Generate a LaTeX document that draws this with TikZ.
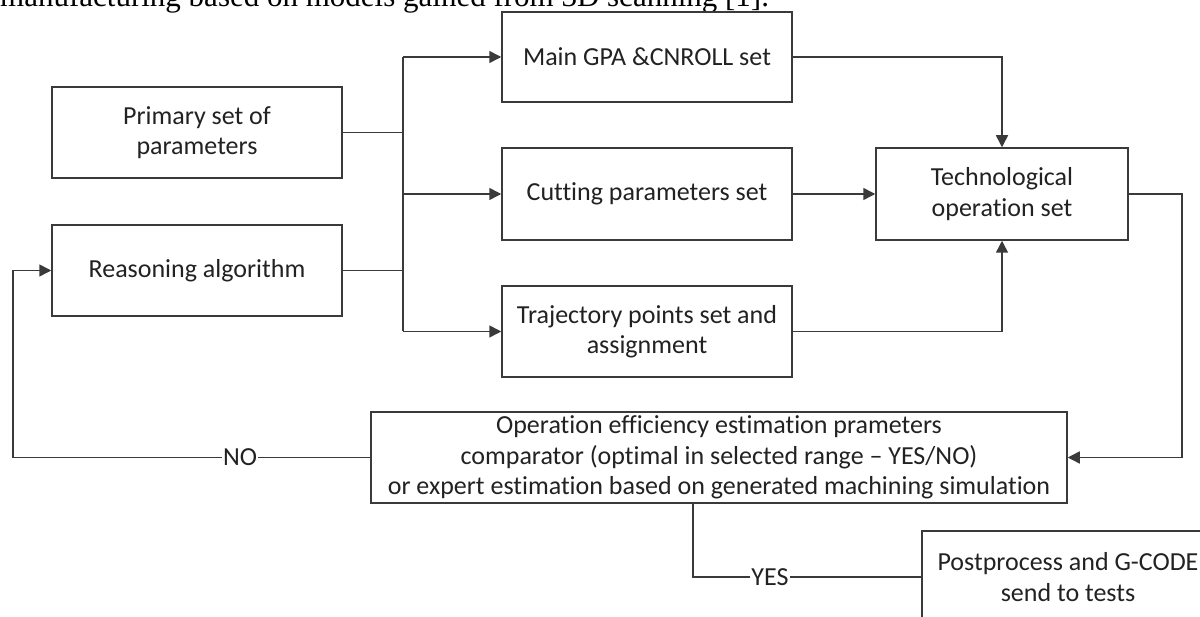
\documentclass[tikz,border=0pt]{standalone}
\usepackage{fontspec}
\setmainfont{Carlito}[Ligatures=NoCommon]
\newfontfamily\capserif{Liberation Serif}
\usetikzlibrary{arrows.meta}
\definecolor{boxcol}{HTML}{3A3A3A}
\definecolor{linecol}{HTML}{3A3A3A}
\definecolor{txtcol}{HTML}{222222}
\begin{document}
\begin{tikzpicture}[x=1pt,y=-1pt,
  box/.style={draw=boxcol, line width=1.5pt, inner sep=0pt, align=center,
    font=\fontsize{26}{30.5}\selectfont, text=txtcol},
  conn/.style={draw=linecol, line width=1.5pt},
  arr/.style={conn, -{Triangle[length=12pt,width=12pt]}},
  lbl/.style={fill=white, inner sep=1pt, font=\fontsize{26}{30}\selectfont, text=txtcol}]
\useasboundingbox (0,0) rectangle (1200,617);
\clip (0,0) rectangle (1200,617);
\fill[white] (0,0) rectangle (1200,617);
\node[anchor=base west, inner sep=0pt, font=\capserif\fontsize{31}{36}\selectfont] (cap) at (0,7)
  {manufacturing based on models gained from 3D scanning [1].};

\node[box, minimum width=290pt, minimum height=91pt] (prim) at (197,132.5) {Primary set of\\parameters};
\node[box, minimum width=290pt, minimum height=91pt] (reas) at (197,270.5) {Reasoning algorithm};
\node[box, minimum width=290pt, minimum height=90pt] (main) at (647,57) {Main GPA \&CNROLL set};
\node[box, minimum width=290pt, minimum height=92pt] (cut) at (647,194) {Cutting parameters set};
\node[box, minimum width=290pt, minimum height=91pt] (traj) at (647,331.5) {Trajectory points set and\\assignment};
\node[box, minimum width=252pt, minimum height=92pt] (tech) at (1002,194) {Technological\\operation set};
\node[box, minimum width=696pt, minimum height=91pt] (comp) at (719,457.5)
  {Operation efficiency estimation prameters\\comparator (optimal in selected range -- YES/NO)\\or expert estimation based on generated machining simulation};
\node[box, minimum width=292pt, minimum height=92pt] (post) at (1068,577) {Postprocess and G-CODE\\send to tests};

\coordinate (bus) at (403,0);
\coordinate (rt) at (1182,0);
\coordinate (lf) at (13,0);
\coordinate (ys) at (693,0);

\draw[conn] (prim.east) -- (prim.east -| bus);
\draw[conn] (reas.east) -- (reas.east -| bus);
\draw[conn] (main.west -| bus) -- (traj.west -| bus);
\draw[arr] (main.west -| bus) -- (main.west);
\draw[arr] (cut.west -| bus) -- (cut.west);
\draw[arr] (traj.west -| bus) -- (traj.west);

\draw[arr] (main.east) -| (tech.north);
\draw[arr] (cut.east) -- (tech.west);
\draw[arr] (traj.east) -| (tech.south);
\draw[arr] (tech.east) -- (tech.east -| rt) |- (comp.east);

\draw[arr] (comp.west) -- (comp.west -| lf) |- (reas.west);
\node[lbl] (no) at (240,457.5) {NO};

\draw[conn] (comp.south -| ys) |- (post.west);
\node[lbl] (yes) at (770,577) {YES};
\end{tikzpicture}
\end{document}
